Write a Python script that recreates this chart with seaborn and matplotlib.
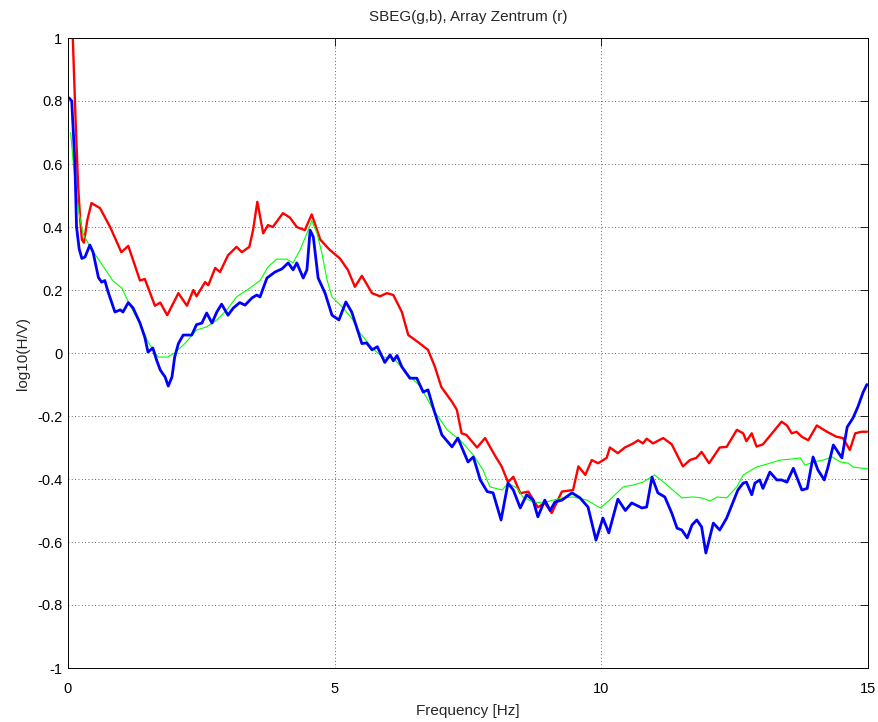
import numpy as np
import pandas as pd
import matplotlib
matplotlib.use("Agg")
import matplotlib.pyplot as plt
import seaborn as sns

# H/V spectral ratios (log10) versus frequency in Hz
red_f = [0.03, 0.09, 0.14, 0.19, 0.23, 0.26, 0.30, 0.36, 0.44, 0.60, 0.79, 1.00, 1.13, 1.35, 1.44,
         1.63, 1.73, 1.86, 2.07, 2.23, 2.35, 2.41, 2.57, 2.63, 2.76, 2.85, 3.00, 3.16, 3.26, 3.40,
         3.47, 3.55, 3.66, 3.75, 3.84, 4.03, 4.16, 4.29, 4.44, 4.57, 4.73, 4.91, 5.10, 5.25, 5.38,
         5.51, 5.70, 5.85, 5.98, 6.10, 6.26, 6.38, 6.56, 6.75, 6.88, 7.00, 7.20, 7.29, 7.38, 7.47,
         7.67, 7.82, 8.00, 8.13, 8.25, 8.35, 8.48, 8.63, 8.81, 8.94, 9.07, 9.26, 9.47, 9.57, 9.70,
         9.82, 9.94, 10.10, 10.16, 10.31, 10.44, 10.60, 10.69, 10.78, 10.85, 10.97, 11.16, 11.32,
         11.53, 11.66, 11.78, 11.88, 12.02, 12.22, 12.35, 12.54, 12.66, 12.72, 12.82, 12.91, 13.03,
         13.20, 13.38, 13.48, 13.57, 13.66, 13.76, 13.88, 14.04, 14.23, 14.41, 14.53, 14.66, 14.76,
         14.88, 14.98]
red_v = [1.25, 1.00, 0.75, 0.53, 0.42, 0.36, 0.35, 0.42, 0.476, 0.46, 0.40, 0.32, 0.34, 0.23, 0.235,
         0.15, 0.16, 0.12, 0.19, 0.15, 0.20, 0.18, 0.225, 0.215, 0.27, 0.257, 0.31, 0.337, 0.32, 0.337,
         0.39, 0.48, 0.38, 0.406, 0.40, 0.444, 0.43, 0.40, 0.39, 0.44, 0.36, 0.327, 0.30, 0.263, 0.21,
         0.245, 0.19, 0.18, 0.19, 0.184, 0.13, 0.057, 0.035, 0.01, -0.044, -0.108, -0.155, -0.18, -0.255, -0.26,
         -0.30, -0.27, -0.324, -0.36, -0.41, -0.393, -0.445, -0.44, -0.49, -0.476, -0.508, -0.44, -0.435, -0.36, -0.387,
         -0.34, -0.35, -0.333, -0.30, -0.318, -0.30, -0.287, -0.277, -0.287, -0.272, -0.287, -0.27, -0.29,
         -0.36, -0.34, -0.333, -0.314, -0.35, -0.30, -0.298, -0.244, -0.255, -0.28, -0.255, -0.297, -0.29,
         -0.255, -0.218, -0.23, -0.255, -0.25, -0.266, -0.277, -0.23, -0.25, -0.266, -0.27, -0.308, -0.255,
         -0.25, -0.25]

blue_f = [0.02, 0.07, 0.13, 0.16, 0.21, 0.26, 0.32, 0.41, 0.47, 0.57, 0.63, 0.69, 0.75, 0.88, 0.98,
          1.03, 1.13, 1.22, 1.35, 1.44, 1.50, 1.59, 1.66, 1.73, 1.82, 1.88, 1.95, 2.00, 2.07, 2.16,
          2.32, 2.41, 2.51, 2.60, 2.70, 2.79, 2.88, 3.00, 3.10, 3.22, 3.32, 3.45, 3.54, 3.60, 3.73,
          3.88, 4.01, 4.13, 4.22, 4.29, 4.41, 4.48, 4.54, 4.60, 4.69, 4.82, 4.95, 5.08, 5.21, 5.32,
          5.51, 5.60, 5.70, 5.80, 5.94, 6.04, 6.10, 6.17, 6.26, 6.41, 6.54, 6.66, 6.75, 6.85, 7.01,
          7.20, 7.31, 7.50, 7.60, 7.73, 7.86, 7.97, 8.12, 8.25, 8.35, 8.48, 8.60, 8.72, 8.81, 8.94,
          9.04, 9.13, 9.26, 9.45, 9.60, 9.75, 9.90, 10.03, 10.14, 10.31, 10.45, 10.57, 10.76, 10.85,
          10.95, 11.06, 11.19, 11.32, 11.42, 11.51, 11.61, 11.70, 11.79, 11.88, 11.96, 12.10, 12.22,
          12.35, 12.47, 12.56, 12.66, 12.72, 12.82, 12.88, 12.97, 13.03, 13.16, 13.29, 13.38, 13.48,
          13.60, 13.76, 13.86, 13.97, 14.06, 14.18, 14.25, 14.35, 14.51, 14.61, 14.72, 14.81, 14.91,
          14.98]
blue_v = [0.81, 0.80, 0.60, 0.40, 0.33, 0.30, 0.305, 0.343, 0.32, 0.24, 0.225, 0.23, 0.195, 0.13, 0.137,
          0.13, 0.16, 0.143, 0.095, 0.05, 0.003, 0.016, -0.022, -0.054, -0.076, -0.105, -0.076, -0.013, 0.03, 0.057,
          0.057, 0.09, 0.095, 0.127, 0.095, 0.13, 0.155, 0.12, 0.143, 0.16, 0.152, 0.175, 0.184, 0.178, 0.238,
          0.257, 0.267, 0.286, 0.264, 0.286, 0.238, 0.264, 0.39, 0.368, 0.238, 0.19, 0.12, 0.105, 0.162, 0.13,
          0.03, 0.032, 0.01, 0.02, -0.03, -0.006, -0.025, -0.008, -0.044, -0.08, -0.08, -0.124, -0.117, -0.175, -0.26,
          -0.298, -0.27, -0.346, -0.33, -0.403, -0.44, -0.444, -0.53, -0.413, -0.435, -0.492, -0.45, -0.467, -0.52, -0.467,
          -0.50, -0.473, -0.467, -0.444, -0.46, -0.489, -0.594, -0.524, -0.571, -0.464, -0.50, -0.476, -0.492, -0.489,
          -0.394, -0.444, -0.457, -0.508, -0.556, -0.562, -0.587, -0.546, -0.53, -0.552, -0.635, -0.54, -0.562,
          -0.524, -0.473, -0.435, -0.413, -0.41, -0.45, -0.413, -0.403, -0.43, -0.378, -0.403, -0.403, -0.41,
          -0.366, -0.435, -0.43, -0.33, -0.371, -0.403, -0.362, -0.292, -0.333, -0.235, -0.206, -0.171, -0.124,
          -0.10]

green_f = [0.05, 0.10, 0.13, 0.20, 0.28, 0.41, 0.60, 0.84, 1.01, 1.16, 1.35, 1.50, 1.69, 1.86, 2.00,
           2.19, 2.41, 2.60, 2.79, 2.98, 3.16, 3.41, 3.60, 3.75, 3.91, 4.10, 4.22, 4.35, 4.48, 4.57,
           4.67, 4.76, 4.86, 4.95, 5.16, 5.34, 5.47, 5.70, 5.90, 6.10, 6.36, 6.60, 6.85, 7.11, 7.35,
           7.60, 7.78, 7.91, 8.14, 8.25, 8.42, 8.53, 8.72, 8.91, 9.09, 9.28, 9.47, 9.73, 9.98, 10.16,
           10.41, 10.60, 10.78, 11.00, 11.23, 11.51, 11.72, 11.88, 12.04, 12.17, 12.35, 12.54, 12.66,
           12.91, 13.16, 13.35, 13.54, 13.73, 13.82, 13.97, 14.16, 14.33, 14.48, 14.63, 14.72, 14.85,
           15.00]
green_v = [0.70, 0.60, 0.55, 0.45, 0.38, 0.337, 0.29, 0.23, 0.206, 0.152, 0.095, 0.035, -0.013, -0.013, 0.0,
           0.03, 0.073, 0.083, 0.105, 0.137, 0.178, 0.206, 0.23, 0.273, 0.298, 0.298, 0.286, 0.327, 0.38, 0.42,
           0.38, 0.317, 0.23, 0.178, 0.143, 0.105, 0.065, 0.016, -0.013, -0.016, -0.066, -0.105, -0.18, -0.244, -0.276,
           -0.324, -0.371, -0.425, -0.435, -0.413, -0.429, -0.457, -0.473, -0.476, -0.467, -0.46, -0.457, -0.467, -0.492, -0.466,
           -0.425, -0.419, -0.41, -0.387, -0.419, -0.46, -0.457, -0.46, -0.47, -0.457, -0.46, -0.425, -0.387,
           -0.362, -0.35, -0.34, -0.337, -0.333, -0.356, -0.346, -0.34, -0.33, -0.346, -0.35, -0.362, -0.365,
           -0.368]

x_ticks = [0, 5, 10, 15]
y_ticks = [-1, -0.8, -0.6, -0.4, -0.2, 0, 0.2, 0.4, 0.6, 0.8, 1]
y_tick_labels = ["-1", "-0.8", "-0.6", "-0.4", "-0.2", "0", "0.2", "0.4", "0.6", "0.8", "1"]

sns.set_style("white")
plt.rcParams["font.family"] = ["Liberation Sans", "DejaVu Sans"]

fig = plt.figure(figsize=(8.79, 7.22), dpi=100)
ax = fig.add_axes([68 / 879, 1 - 668 / 722, 800 / 879, 630 / 722])

green_df = pd.DataFrame({"f": green_f, "v": green_v})
blue_df = pd.DataFrame({"f": blue_f, "v": blue_v})
red_df = pd.DataFrame({"f": red_f, "v": red_v})

sns.lineplot(data=red_df, x="f", y="v", ax=ax, color="#ff0000", linewidth=1.7, estimator=None)
sns.lineplot(data=green_df, x="f", y="v", ax=ax, color="#00ff00", linewidth=0.8, estimator=None)
sns.lineplot(data=blue_df, x="f", y="v", ax=ax, color="#0000ff", linewidth=2.0, estimator=None)

ax.set_xlim(0, 15)
ax.set_ylim(-1, 1)
ax.set_xticks(x_ticks)
ax.set_xticklabels([str(t) for t in x_ticks])
ax.set_yticks(y_ticks)
ax.set_yticklabels(y_tick_labels)
ax.grid(True, color="black", linestyle=(0, (1, 3)), linewidth=0.6, alpha=0.8)
ax.tick_params(direction="in", length=5.5, width=0.6, top=True, right=True,
               labelsize=10.5, colors="black")
ax.tick_params(axis="x", pad=10)
ax.tick_params(axis="y", pad=4)
for s in ax.spines.values():
    s.set_color("black")
    s.set_linewidth(0.7)

ax.set_title("SBEG(g,b), Array Zentrum (r)", fontsize=11, pad=12)
ax.set_xlabel("Frequency [Hz]", fontsize=11, labelpad=6)
ax.set_ylabel("log10(H/V)", fontsize=11, labelpad=5)

fig.savefig("out.png", dpi=100)
